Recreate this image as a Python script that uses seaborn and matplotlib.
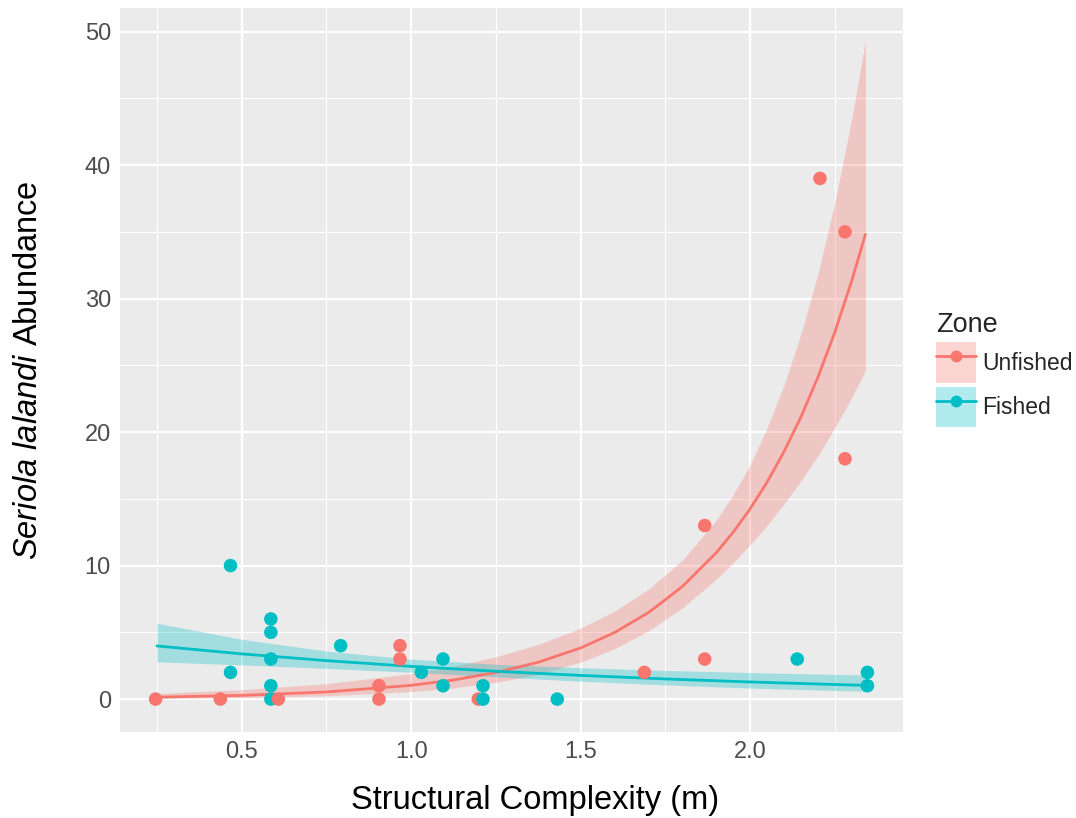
import numpy as np
import pandas as pd
import matplotlib
matplotlib.use("Agg")
import matplotlib.pyplot as plt
from matplotlib.patches import Patch
from matplotlib.lines import Line2D
from matplotlib.legend_handler import HandlerTuple
from matplotlib.ticker import MultipleLocator
import seaborn as sns

# ---- points ----
unfished_x = [0.246, 0.437, 0.608, 0.905, 0.905, 0.967, 0.967, 1.198, 1.688,
              1.866, 1.866, 2.206, 2.280, 2.280]
unfished_y = [0, 0, 0, 0, 1, 3, 4, 0, 2, 3, 13, 39, 35, 18]
fished_x = [0.467, 0.467, 0.586, 0.586, 0.586, 0.586, 0.586, 0.792, 1.030,
            1.094, 1.094, 1.212, 1.212, 1.431, 2.139, 2.346, 2.346]
fished_y = [10, 2, 6, 5, 3, 1, 0, 4, 2, 3, 1, 1, 0, 0, 3, 2, 1]

# ---- fitted curves and confidence bands ----
unfished_fit_x = [0.25, 0.5, 0.75, 1.0, 1.125, 1.25, 1.375, 1.5, 1.6, 1.7, 1.8,
                  1.9, 1.95, 2.0, 2.05, 2.1, 2.15, 2.2, 2.25, 2.3, 2.34]
unfished_fit = [0.144, 0.277, 0.534, 1.03, 1.431, 1.99, 2.760, 3.83, 4.984,
                6.481, 8.428, 10.96, 12.50, 14.25, 16.25, 18.54, 21.14, 24.11,
                27.49, 31.35, 34.8]
unfished_lo = [0.049, 0.109, 0.247, 0.556, 0.833, 1.25, 1.860, 2.76, 3.771,
               5.107, 6.830, 8.973, 10.21, 11.55, 13.01, 14.61, 16.34, 18.24,
               20.32, 22.60, 24.6]
unfished_hi = [0.427, 0.701, 1.156, 1.909, 2.457, 3.17, 4.096, 5.31, 6.587,
               8.225, 10.40, 13.39, 15.31, 17.58, 20.30, 23.53, 27.35, 31.87,
               37.20, 43.50, 49.3]
fished_fit_x = [0.25, 0.5, 0.75, 1.0, 1.25, 1.5, 1.75, 2.0, 2.25, 2.34]
fished_fit = [3.98, 3.386, 2.880, 2.450, 2.084, 1.773, 1.508, 1.283, 1.091, 1.029]
fished_lo = [2.79, 2.56, 2.30, 2.01, 1.667, 1.34, 1.057, 0.827, 0.644, 0.587]
fished_hi = [5.68, 4.48, 3.60, 2.99, 2.61, 2.35, 2.15, 1.99, 1.85, 1.80]

zones = ["Unfished", "Fished"]
colors = ["#F8766D", "#00BFC4"]
x_ticks = [0.5, 1.0, 1.5, 2.0]
y_ticks = [0, 10, 20, 30, 40, 50]

df = pd.concat([
    pd.DataFrame({"x": unfished_x, "y": unfished_y, "Zone": "Unfished"}),
    pd.DataFrame({"x": fished_x, "y": fished_y, "Zone": "Fished"}),
]).sort_values("x", kind="stable").reset_index(drop=True)

curves = pd.concat([
    pd.DataFrame({"x": unfished_fit_x, "fit": unfished_fit, "lo": unfished_lo,
                  "hi": unfished_hi, "Zone": "Unfished"}),
    pd.DataFrame({"x": fished_fit_x, "fit": fished_fit, "lo": fished_lo,
                  "hi": fished_hi, "Zone": "Fished"}),
]).reset_index(drop=True)

sns.set_theme(style="darkgrid")
plt.rcParams["font.family"] = ["Liberation Sans", "DejaVu Sans"]
plt.rcParams["mathtext.fontset"] = "custom"
plt.rcParams["mathtext.it"] = "Liberation Sans:italic"
plt.rcParams["mathtext.rm"] = "Liberation Sans"

fig = plt.figure(figsize=(10.76, 8.18), dpi=100)
ax = fig.add_axes([120 / 1076, 1 - 732 / 818, (903 - 120) / 1076, (732 - 8) / 818])
ax.set_facecolor("#EBEBEB")
fig.patch.set_facecolor("white")

for zone, c in zip(zones, colors):
    sub = curves[curves["Zone"] == zone]
    ax.fill_between(sub["x"], sub["lo"], sub["hi"], color=c, alpha=0.3,
                    linewidth=0, zorder=2)
    sns.lineplot(data=sub, x="x", y="fit", color=c, linewidth=2.0, ax=ax,
                 zorder=3, sort=False)

sns.scatterplot(data=df, x="x", y="y", hue="Zone", hue_order=zones,
                palette=colors, s=95, linewidth=0, alpha=1, ax=ax,
                legend=False, zorder=4)

# ggplot-like 5% expansion of the data range
ymax_all = max(curves["hi"].max(), df["y"].max())
ymin_all = min(curves["lo"].min(), df["y"].min())
yr = ymax_all - ymin_all
ax.set_ylim(ymin_all - 0.05 * yr, ymax_all + 0.05 * yr)
xmin = min(df["x"].min(), curves["x"].min())
xmax = max(df["x"].max(), curves["x"].max())
xr = xmax - xmin
ax.set_xlim(xmin - 0.05 * xr, xmax + 0.05 * xr)

ax.set_xticks(x_ticks)
ax.set_xticklabels([f"{v:.1f}" for v in x_ticks])
ax.set_yticks(y_ticks)
ax.set_yticklabels([str(v) for v in y_ticks])
ax.xaxis.set_minor_locator(MultipleLocator(0.25))
ax.yaxis.set_minor_locator(MultipleLocator(5))
ax.grid(which="major", color="white", linewidth=1.6)
ax.grid(which="minor", color="white", linewidth=0.8)
ax.set_axisbelow(True)
for s in ax.spines.values():
    s.set_visible(False)
ax.tick_params(axis="both", which="major", length=5, width=1.3, color="#333333",
               labelsize=17, labelcolor="#4D4D4D", pad=1.5)
ax.tick_params(axis="both", which="minor", length=0)

ax.set_xlabel("Structural Complexity (m)", fontsize=23.5, color="black")
ax.xaxis.set_label_coords((535 - 120) / 783, -(800 - 732) / 724)
ax.xaxis.label.set_va("center")
ax.set_ylabel(r"$\it{Seriola\ lalandi}$ Abundance", fontsize=23.5, color="black")
ax.yaxis.set_label_coords(-(120 - 29) / 783, 0.5)
ax.yaxis.label.set_va("center")

handles = []
for c in colors:
    patch = Patch(facecolor=c, alpha=0.3, edgecolor="none")
    line = Line2D([], [], color=c, linewidth=2.0, marker="o", markersize=8.5,
                  markeredgewidth=0)
    handles.append((patch, line))
leg = fig.legend(handles, zones,
                 handler_map={tuple: HandlerTuple(ndivide=1, pad=0)},
                 loc="upper left", bbox_to_anchor=(936 / 1076, 1 - 312 / 818),
                 frameon=False, fontsize=16.5, title="Zone", title_fontsize=19.5,
                 handlelength=1.75, handleheight=2.35, handletextpad=0.25,
                 labelspacing=0.18, alignment="left", borderaxespad=0,
                 borderpad=0)

fig.savefig("out.png", dpi=100)
